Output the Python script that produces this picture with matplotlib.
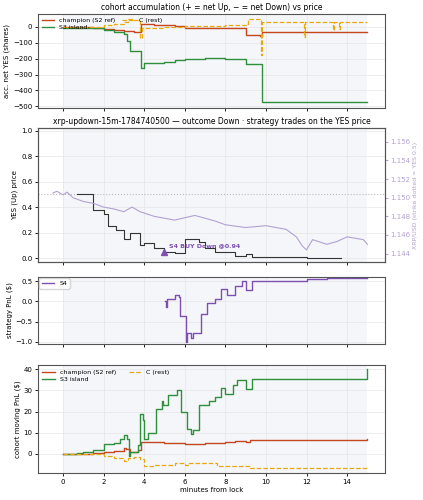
import matplotlib
matplotlib.use("Agg")
import matplotlib.pyplot as plt

# panel 1: accumulation
champ_acc_t = [0, 1, 1.5, 2, 2.5, 3, 3.5, 3.85, 4.5, 5.5, 6, 7, 8, 9.0, 9.7, 9.8, 15]
champ_acc_v = [0, -2, -8, -15, -22, -28, -35, 15, 10, 5, -5, -10, -10, -50, -55, -35, -35]
s3_acc_t = [0, 1.5, 2, 2.5, 3, 3.15, 3.3, 3.85, 4.0, 4.6, 5.0, 5.5, 6, 7, 8, 9, 9.8, 15]
s3_acc_v = [-5, -10, -20, -35, -45, -90, -150, -260, -225, -230, -220, -210, -200, -195, -200, -235, -475, -475]
c_acc_t = [0, 1, 2, 2.5, 3, 3.2, 3.4, 3.7, 3.8, 3.9, 5, 6, 7, 8, 9, 9.1, 9.7, 9.75, 9.8, 11.85, 11.9, 11.95, 13.3, 13.35, 13.6, 13.65, 15]
c_acc_v = [0, 0, 10, 20, 30, 50, 40, 35, -70, -10, 0, 5, 5, 10, 20, 50, 50, -180, 30, 30, -65, 30, -20, 30, -15, 30, 30]

# panel 2: prices
yes_t = [0.7, 1.5, 2.0, 2.2, 2.6, 3.0, 3.3, 3.6, 3.8, 4.0, 4.5, 5.0, 5.5, 6.0, 6.7, 7.0, 7.5, 8.5, 9.0, 9.3, 12.0, 13.7]
yes_v = [0.50, 0.38, 0.35, 0.25, 0.22, 0.15, 0.20, 0.20, 0.10, 0.12, 0.08, 0.05, 0.04, 0.15, 0.13, 0.08, 0.05, 0.02, 0.03, 0.01, 0.00, 0.00]
xrp_t = [-0.5, -0.3, 0.0, 0.2, 0.5, 1.0, 1.5, 2.0, 2.5, 3.0, 3.4, 3.8, 4.5, 5.5, 6.5, 7.5, 8.0, 9.0, 10.0, 11.0, 11.5, 11.8, 12.0, 12.3, 13.0, 13.5, 14.0, 14.8, 15.0]
xrp_v = [1.1505, 1.1507, 1.1503, 1.1506, 1.1500, 1.1496, 1.1494, 1.1490, 1.1488, 1.1485, 1.1490, 1.1485, 1.1480, 1.1476, 1.1481, 1.1475, 1.1471, 1.1468, 1.1470, 1.1466, 1.1458, 1.1448, 1.1444, 1.1455, 1.1450, 1.1453, 1.1458, 1.1455, 1.1450]
trade_t, trade_p, trade_label = 5.0, 0.05, "S4 BUY Down @0.94"

# panel 3: strategy pnl
s4_t = [5.05, 5.1, 5.15, 5.5, 5.7, 5.75, 6.05, 6.1, 6.3, 6.4, 6.8, 7.1, 7.5, 7.8, 8.1, 8.5, 8.8, 9.0, 9.3, 12.0, 13.0, 15.0]
s4_v = [0.0, -0.15, 0.05, 0.15, 0.1, -0.35, -1.0, -0.78, -0.9, -0.78, -0.3, -0.05, 0.05, 0.3, 0.15, 0.38, 0.5, 0.27, 0.5, 0.55, 0.57, 0.58]

# panel 4: moving pnl
champ_pnl_t = [0, 1.5, 2, 2.5, 3, 3.1, 3.3, 3.6, 3.7, 3.85, 5, 6, 7, 8, 8.5, 9, 9.2, 15]
champ_pnl_v = [0, 0.5, 1, 1.5, 3, 2.5, 1, 1, 2, 5.5, 5.0, 4.5, 5, 5.5, 6, 5.5, 6.5, 7]
s3_pnl_t = [0, 0.7, 1, 1.5, 2, 2.5, 2.8, 3, 3.15, 3.25, 3.3, 3.6, 3.7, 3.8, 3.95, 4.0, 4.2, 4.6, 4.9, 4.95, 5.2, 5.6, 5.8, 6.1, 6.3, 6.4, 6.7, 7.2, 7.5, 7.8, 8.0, 8.4, 8.6, 9.0, 9.3, 15.0]
s3_pnl_v = [0, 0.5, 1, 2, 4.5, 5, 7, 9, 7, -1, 1, 1, 4, 19, 16, 7, 10, 21, 25, 23, 28, 30, 20, 12, 9.5, 11.5, 23, 25, 27, 31, 28.5, 32.5, 35, 30.5, 35.5, 40]
c_pnl_t = [0, 1.8, 2, 2.5, 3, 3.2, 3.5, 3.8, 4, 4.5, 5.5, 6, 6.2, 7.5, 7.6, 9, 9.2, 12, 15]
c_pnl_v = [0, 0, -1, -2, -3.5, -2, -1.5, -2.5, -5.5, -5, -4.5, -5, -4.5, -4.5, -5.5, -5.5, -6.5, -6.8, -7]

C_CH, C_S3, C_C, C_S4, C_XRP = "#c4471f", "#2f8f3c", "#e8a90f", "#7d4fae", "#b3a1d1"
FS = 5
plt.rcParams.update({"font.size": FS, "axes.edgecolor": "#555555", "axes.linewidth": 0.8})

fig = plt.figure(figsize=(4.23, 5.0), dpi=100)
L, W = 0.0898, 0.820
ax1 = fig.add_axes([L, 0.784, W, 0.188])
ax2 = fig.add_axes([L, 0.476, W, 0.268], sharex=ax1)
ax3 = fig.add_axes([L, 0.312, W, 0.134], sharex=ax1)
ax4 = fig.add_axes([L, 0.054, W, 0.216], sharex=ax1)

for ax in (ax1, ax2, ax3, ax4):
    ax.axvspan(0, 15, color="#eef0f8", alpha=0.6, lw=0, zorder=0)
    ax.grid(True, color="#e6e6e6", lw=0.5)
    ax.set_axisbelow(True)
    ax.tick_params(labelsize=FS, length=2.5, width=0.6, pad=1.5)
for ax in (ax1, ax2, ax3):
    ax.tick_params(labelbottom=False)
ax1.set_xlim(-1.23, 15.86)
ax1.set_xticks([0, 2, 4, 6, 8, 10, 12, 14])

ax1.step(champ_acc_t, champ_acc_v, where="post", color=C_CH, lw=1.0, label="champion (S2 ref)")
ax1.step(s3_acc_t, s3_acc_v, where="post", color=C_S3, lw=1.0, label="S3 island")
ax1.step(c_acc_t, c_acc_v, where="post", color=C_C, lw=0.9, ls="--", label="C (rest)")
ax1.set_ylim(-510, 80)
ax1.set_yticks([0, -100, -200, -300, -400, -500])
ax1.set_yticklabels(["0", "\u2212100", "\u2212200", "\u2212300", "\u2212400", "\u2212500"])
ax1.set_ylabel("acc. net YES (shares)", fontsize=FS, labelpad=2)
ax1.set_title("cohort accumulation (+ = net Up, \u2212 = net Down) vs price", fontsize=5.5, pad=3)
ax1.legend(loc="upper left", ncol=2, fontsize=4.5, frameon=False, handlelength=2, borderaxespad=0.2, labelspacing=0.2, columnspacing=1.0)

ax2.axhline(0.5, color="#bbbbbb", ls=":", lw=0.8)
ax2.step(yes_t, yes_v, where="post", color="#333333", lw=0.8)
ax2.plot([trade_t], [trade_p], marker="^", color=C_S4, ms=4.5, ls="none")
ax2.annotate(trade_label, (trade_t, trade_p), xytext=(3, 3), textcoords="offset points", fontsize=4.5, color=C_S4, fontweight="bold")
ax2.set_ylim(-0.03, 1.02)
ax2.set_yticks([0.0, 0.2, 0.4, 0.6, 0.8, 1.0])
ax2.set_ylabel("YES (Up) price", fontsize=FS, labelpad=2)
ax2.set_title("xrp-updown-15m-1784740500 \u2014 outcome Down \u00b7 strategy trades on the YES price", fontsize=5.5, pad=3)
tw = ax2.twinx()
tw.plot(xrp_t, xrp_v, color=C_XRP, lw=0.8)
tw.set_ylim(1.14310, 1.15749)
tw.set_yticks([1.144, 1.146, 1.148, 1.150, 1.152, 1.154, 1.156])
tw.tick_params(labelsize=FS, colors=C_XRP, length=2.5, pad=1.5)
tw.set_ylabel("XRP/USD (strike dotted = YES 0.5)", fontsize=4.5, color=C_XRP, labelpad=2)

ax3.step(s4_t, s4_v, where="post", color=C_S4, lw=1.0, label="S4")
ax3.set_ylim(-1.05, 0.6)
ax3.set_yticks([-1.0, -0.5, 0.0, 0.5])
ax3.set_yticklabels(["\u22121.0", "\u22120.5", "0.0", "0.5"])
ax3.set_ylabel("strategy PnL ($)", fontsize=FS, labelpad=2)
ax3.legend(loc="upper left", fontsize=4.5, frameon=True, handlelength=2, borderaxespad=0.2)

ax4.step(champ_pnl_t, champ_pnl_v, where="post", color=C_CH, lw=1.0, label="champion (S2 ref)")
ax4.step(s3_pnl_t, s3_pnl_v, where="post", color=C_S3, lw=1.0, label="S3 island")
ax4.step(c_pnl_t, c_pnl_v, where="post", color=C_C, lw=0.9, ls="--", label="C (rest)")
ax4.set_ylim(-9, 42)
ax4.set_yticks([0, 10, 20, 30, 40])
ax4.set_ylabel("cohort moving PnL ($)", fontsize=FS, labelpad=2)
ax4.set_xlabel("minutes from lock", fontsize=FS, labelpad=2)
ax4.legend(loc="upper left", ncol=2, fontsize=4.5, frameon=False, handlelength=2, borderaxespad=0.3, labelspacing=0.3, columnspacing=2.0)

fig.savefig("out.png", dpi=100)
